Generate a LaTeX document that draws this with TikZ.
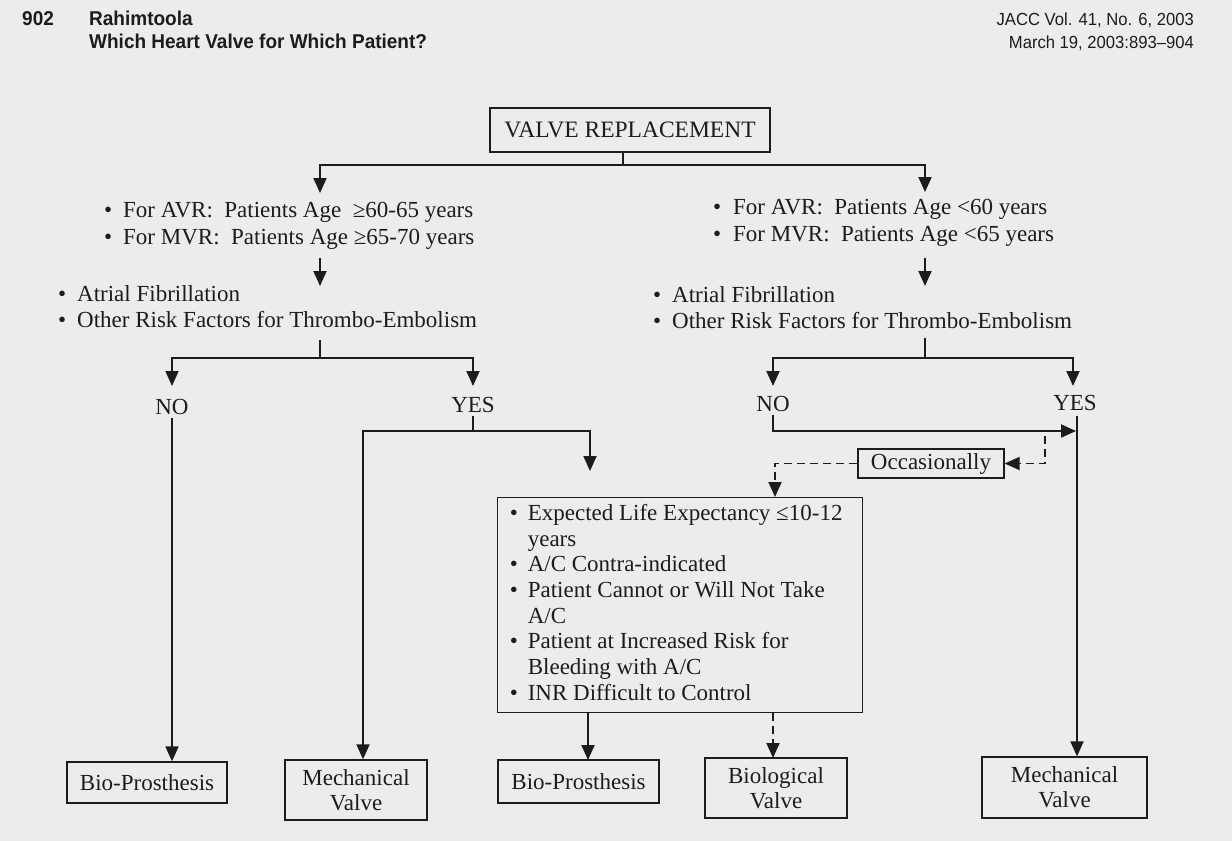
\documentclass[tikz,border=0pt]{standalone}
\usepackage{fontspec}
\setmainfont{Liberation Serif}
\newfontfamily\headsans[FakeStretch=0.95]{Liberation Sans}
\usetikzlibrary{arrows.meta}
\definecolor{paper}{RGB}{236,236,236}
\definecolor{ink}{RGB}{28,28,28}
\newcommand\bodyfont{\fontsize{23}{27}\selectfont}
\newcommand\bl{\textbullet}
\begin{document}
\begin{tikzpicture}[x=1pt,y=-1pt,
  every node/.style={text=ink},
  txt/.style={font=\bodyfont, inner sep=0pt},
  box/.style={draw=ink, line width=1.3pt, font=\bodyfont, align=center, inner sep=0pt},
  link/.style={draw=ink, line width=1.9pt},
  flow/.style={link, -{Triangle[length=15pt,width=13pt]}},
  dflow/.style={flow, dash pattern=on 8pt off 5pt},
  hbold/.style={font=\headsans\bfseries\fontsize{20}{24}\selectfont, inner sep=0pt},
  hreg/.style={font=\headsans\fontsize{17.5}{21}\selectfont, inner sep=0pt}]
\useasboundingbox (0,0) rectangle (1232,841);
\fill[paper] (0,0) rectangle (1232,841);

% running head
\node[hbold, anchor=base west] (pg) at (22,25) {902};
\node[hbold, anchor=base west] (au) at (89,25) {Rahimtoola};
\node[hbold, anchor=base west] (ti) at (89,48) {Which Heart Valve for Which Patient?};
\node[hreg, anchor=base east] (jn) at (1194,25) {JACC Vol. 41, No. 6, 2003};
\node[hreg, anchor=base east] (dt) at (1194,48) {March 19, 2003:893–904};

% root
\node[box, minimum width=280, minimum height=44, font=\fontsize{23.5}{27}\selectfont] (vr) at (630,130) {VALVE REPLACEMENT};

% age groups
\node[txt, anchor=west] (lage) at (104,226) {\begin{tabular}{@{}p{19pt}@{}l@{}}
\bl & For AVR:\ \ Patients Age\ \ ≥60-65 years\\
\bl & For MVR:\ \ Patients Age ≥65-70 years\end{tabular}};
\node[txt, anchor=west] (rage) at (713,223) {\begin{tabular}{@{}p{20pt}@{}l@{}}
\bl & For AVR:\ \ Patients Age <60 years\\
\bl & For MVR:\ \ Patients Age <65 years\end{tabular}};

% thrombo-embolism risk
\node[txt, anchor=west, font=\fontsize{23}{26}\selectfont] (lrisk) at (58,309) {\begin{tabular}{@{}p{19pt}@{}l@{}}
\bl & Atrial Fibrillation\\
\bl & Other Risk Factors for Thrombo-Embolism\end{tabular}};
\node[txt, anchor=west, font=\fontsize{23}{26}\selectfont] (rrisk) at (653,310) {\begin{tabular}{@{}p{19pt}@{}l@{}}
\bl & Atrial Fibrillation\\
\bl & Other Risk Factors for Thrombo-Embolism\end{tabular}};

% answers
\node[txt, inner sep=3pt] (lno) at (172,407) {NO};
\node[txt, inner sep=3pt] (lyes) at (473,405) {YES};
\node[txt, inner sep=3pt] (rno) at (773,404) {NO};
\node[txt, inner sep=3pt] (ryes) at (1075,403) {YES};

% conditions box
\node[box, anchor=north west, minimum width=365, minimum height=215, inner xsep=0pt, align=left,
      font=\fontsize{23}{25.7}\selectfont] (cond) at (497,497) {\begin{tabular}{@{\hspace{12pt}}p{18pt}@{}l@{}}
\bl & Expected Life Expectancy ≤10-12\\
    & years\\
\bl & A/C Contra-indicated\\
\bl & Patient Cannot or Will Not Take\\
    & A/C\\
\bl & Patient at Increased Risk for\\
    & Bleeding with A/C\\
\bl & INR Difficult to Control\end{tabular}\hspace{20pt}};

\node[box, minimum width=146, minimum height=29] (occ) at (931,463.5) {Occasionally};

% outcomes
\node[box, minimum width=160, minimum height=41] (bp1) at (147,782.5) {Bio-Prosthesis};
\node[box, minimum width=142, minimum height=60] (mv1) at (356,790) {Mechanical\\[-2pt]Valve};
\node[box, minimum width=161, minimum height=43] (bp2) at (578.5,781.5) {Bio-Prosthesis};
\node[box, minimum width=142, minimum height=60] (bv) at (776,788) {Biological\\[-2pt]Valve};
\node[box, minimum width=165, minimum height=61] (mv2) at (1064.5,787.5) {Mechanical\\[-2pt]Valve};

% junction and end points
\coordinate (j0) at (623,165);
\coordinate (lA) at (320,193);
\coordinate (rA) at (925,192);
\coordinate (lB0) at (320,258);
\coordinate (lB1) at (320,286);
\coordinate (rB0) at (925,258);
\coordinate (rB1) at (925,286);
\coordinate (lj0) at (320,340);
\coordinate (lj) at (320,358);
\coordinate (rj0) at (925,338);
\coordinate (rj) at (925,358);
\coordinate (lnoA) at (172,386);
\coordinate (lyesA) at (473,386);
\coordinate (rnoA) at (773,386);
\coordinate (ryesA) at (1073,386);
\coordinate (ly) at (473,431);
\coordinate (ly1) at (363,431);
\coordinate (ly2) at (590,471);
\coordinate (ry) at (1077,416);
\coordinate (rnoE) at (1076,431);
\coordinate (d0) at (1045,436);
\coordinate (dT) at (775,497);
\coordinate (c1) at (588,760);
\coordinate (c2) at (773,758);

% connectors
\draw[link] (vr.south -| j0) -- (j0);
\draw[flow] (j0) -| (lA);
\draw[flow] (j0) -| (rA);
\draw[flow] (lB0) -- (lB1);
\draw[flow] (rB0) -- (rB1);

\draw[link] (lj0) -- (lj);
\draw[flow] (lj) -| (lnoA);
\draw[flow] (lj) -| (lyesA);
\draw[link] (rj0) -- (rj);
\draw[flow] (rj) -| (rnoA);
\draw[flow] (rj) -| (ryesA);

\draw[flow] (lno.south) -- (lno.south |- bp1.north);
\draw[link] (lyes.south) -- (ly);
\draw[flow] (ly) -- (ly1) -- (ly1 |- mv1.north);
\draw[flow] (ly) -| (ly2);

\draw[flow] (ry) -- (ry |- mv2.north);
\draw[flow] (rno.south) |- (rnoE);
\draw[dflow] (d0) |- (occ.east);
\draw[dflow] (occ.west) -| (dT);

\draw[flow] (cond.south -| c1) -- (c1);
\draw[dflow] (cond.south -| c2) -- (c2);
\end{tikzpicture}
\end{document}
